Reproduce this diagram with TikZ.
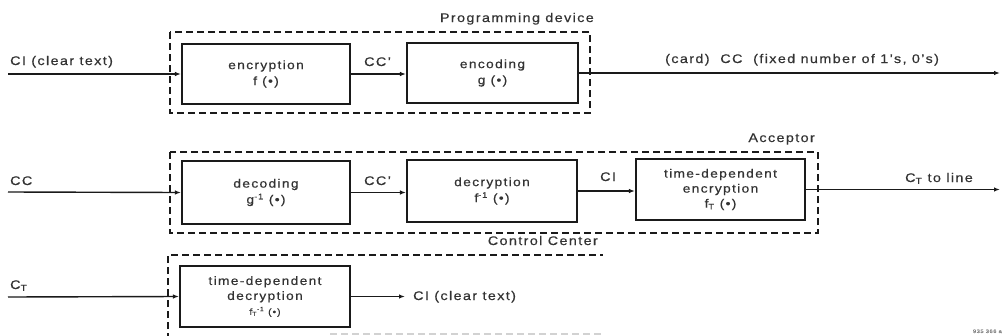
\documentclass[tikz,border=0pt]{standalone}
\usepackage{fontspec}
\setmainfont{Liberation Sans}[FakeStretch=1.15,LetterSpace=11,FakeBold=0.4]
\usetikzlibrary{arrows.meta}
\definecolor{ink}{HTML}{1A1A1A}
\definecolor{txt}{HTML}{333333}
\tikzset{
  blk/.style={draw=ink, line width=2.1pt, inner sep=0pt, align=center,
    font=\fontsize{12}{16}\selectfont, text=txt},
  grp/.style={draw=ink, line width=1.3pt, dash pattern=on 7pt off 4pt},
  wire/.style={draw=ink, line width=1.4pt, -{Latex[length=6pt,width=4.5pt]}},
  lbl/.style={font=\fontsize{12.5}{14}\selectfont, text=txt, inner sep=0pt, anchor=base west},
}
\begin{document}
\begin{tikzpicture}[x=1pt,y=-1pt]
\useasboundingbox[fill=white] (0,0) rectangle (1002,335);

% ---------- Programming device ----------
\draw[grp] (170,32) rectangle (590,113);
\node[lbl, anchor=base east] (pdl) at (594,22) {Programming device};
\node[blk, minimum width=168pt, minimum height=60pt] (enc) at (266,74) {encryption\\f (•)};
\node[blk, minimum width=171pt, minimum height=60pt] (encd) at (492.5,73) {encoding\\g (•)};
\coordinate (in1) at (8,74);
\coordinate (out1) at (1000,72);
\draw[wire] (in1) -- (enc.west);
\draw[wire] (enc.east) -- (enc.east -| encd.west);
\draw[wire] (encd.east) -- (encd.east -| out1);
\node[lbl] (l1) at (10,65) {CI (clear text)};
\node[lbl] (l2) at (364,66) {CC’};
\node[lbl] (l3) at (665,63) {(card)~~CC~~(fixed number of 1’s, 0’s)};

% ---------- Acceptor ----------
\draw[grp] (170,152) rectangle (818,233);
\node[lbl, anchor=base east] (accl) at (815,142) {Acceptor};
\node[blk, minimum width=168pt, minimum height=63pt] (dec) at (266,192.5) {decoding\\g\textsuperscript{-1} (•)};
\node[blk, minimum width=170pt, minimum height=62pt] (decr) at (492,191) {decryption\\f\textsuperscript{-1} (•)};
\node[blk, minimum width=169pt, minimum height=61pt, font=\fontsize{12}{15}\selectfont] (tde) at (720.5,189.5) {time-dependent\\encryption\\f\textsubscript{T} (•)};
\coordinate (in2) at (8,192);
\coordinate (out2) at (1000,190);
\draw[wire] (in2) -- (dec.west);
\draw[wire] (dec.east) -- (dec.east -| decr.west);
\draw[wire] (decr.east) -- (decr.east -| tde.west);
\draw[wire] (tde.east) -- (tde.east -| out2);
\node[lbl] (l4) at (10,185) {CC};
\node[lbl] (l5) at (364,185) {CC’};
\node[lbl] (l6) at (600,181) {CI};
\node[lbl] (l7) at (905,182) {C\textsubscript{T} to line};

% ---------- Control Center ----------
\node[lbl, anchor=base east] (ccl) at (598,245) {Control Center};
\draw[grp] (168,340) -- (168,255) -- (603,255);
\draw[grp, draw=gray!35] (330,334) -- (603,334);
\node[blk, minimum width=170pt, minimum height=61pt, font=\fontsize{12}{15}\selectfont] (tdd) at (265,296.5) {time-dependent\\decryption\\{\fontsize{9}{9}\selectfont f\textsubscript{T}\textsuperscript{-1} (•)}};
\coordinate (in3) at (8,297);
\coordinate (out3) at (405,296.5);
\draw[wire] (in3) -- (tdd.west);
\draw[wire] (tdd.east) -- (out3);
\node[lbl] (l8) at (10,289) {C\textsubscript{T}};
\node[lbl] (l9) at (413,300) {CI (clear text)};

\node[lbl, anchor=base east, font=\fontsize{5}{6}\selectfont, text=gray] (fig) at (1002,333) {935 366 a};
\end{tikzpicture}
\end{document}
